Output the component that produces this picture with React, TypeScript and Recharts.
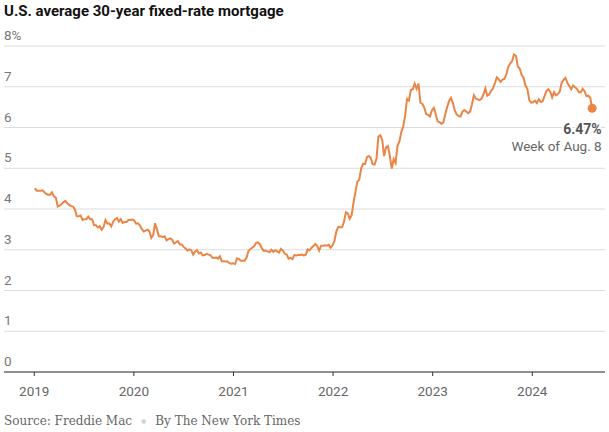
import { CartesianGrid, Line, LineChart, XAxis, YAxis } from "recharts";

// Freddie Mac weekly 30-year fixed rate, first week of each year + weekly values
const start2019 = "2019-01-03";
const rates2019 = [
  4.51, 4.45, 4.45, 4.45, 4.46, 4.41, 4.37, 4.35, 4.35, 4.41, 4.31, 4.28, 4.06,
  4.08, 4.12, 4.17, 4.2, 4.14, 4.1, 4.07, 4.06, 3.99, 3.82, 3.82, 3.84, 3.73,
  3.75, 3.75, 3.81, 3.75, 3.75, 3.6, 3.6, 3.55, 3.58, 3.49, 3.56, 3.73, 3.64,
  3.65, 3.57, 3.69, 3.75, 3.78, 3.69, 3.75, 3.66, 3.68, 3.68, 3.73, 3.73, 3.74,
];
const start2020 = "2020-01-02";
const rates2020 = [
  3.72, 3.64, 3.65, 3.6, 3.51, 3.45, 3.47, 3.49, 3.45, 3.29, 3.36, 3.65, 3.5,
  3.33, 3.33, 3.31, 3.33, 3.23, 3.26, 3.28, 3.24, 3.15, 3.18, 3.21, 3.13, 3.13,
  3.07, 3.03, 2.98, 3.01, 2.99, 2.88, 2.96, 2.99, 2.91, 2.93, 2.86, 2.87, 2.9,
  2.88, 2.87, 2.81, 2.8, 2.81, 2.78, 2.84, 2.72, 2.72, 2.71, 2.71, 2.67, 2.66,
  2.67,
];
const start2021 = "2021-01-07";
const rates2021 = [
  2.65, 2.79, 2.77, 2.73, 2.73, 2.73, 2.81, 2.97, 3.02, 3.05, 3.09, 3.17, 3.18,
  3.13, 3.04, 2.97, 2.98, 2.96, 2.94, 3.0, 2.95, 2.99, 2.96, 2.93, 3.02, 2.98,
  2.9, 2.88, 2.78, 2.8, 2.77, 2.87, 2.86, 2.87, 2.87, 2.88, 2.86, 2.88, 3.01,
  2.99, 3.05, 3.09, 3.14, 3.09, 2.98, 3.1, 3.1, 3.11, 3.1, 3.12, 3.05, 3.11,
];
const start2022 = "2022-01-06";
const rates2022 = [
  3.22, 3.45, 3.56, 3.55, 3.55, 3.69, 3.92, 3.89, 3.76, 3.85, 4.16, 4.42, 4.67,
  4.72, 5.0, 5.11, 5.1, 5.27, 5.3, 5.25, 5.1, 5.09, 5.23, 5.78, 5.81, 5.7, 5.3,
  5.51, 5.54, 5.3, 4.99, 5.22, 5.13, 5.55, 5.66, 5.89, 6.02, 6.29, 6.7, 6.66,
  6.92, 6.94, 7.08, 6.95, 7.08, 6.61, 6.58, 6.49, 6.33, 6.31, 6.27, 6.42,
];
const start2023 = "2023-01-05";
const rates2023 = [
  6.48, 6.33, 6.15, 6.13, 6.09, 6.12, 6.32, 6.5, 6.65, 6.73, 6.6, 6.42, 6.32,
  6.28, 6.27, 6.39, 6.43, 6.39, 6.35, 6.39, 6.57, 6.79, 6.71, 6.69, 6.67, 6.71,
  6.81, 6.96, 6.78, 6.81, 6.9, 6.96, 7.09, 7.23, 7.18, 7.12, 7.18, 7.19, 7.31,
  7.49, 7.57, 7.63, 7.79, 7.76, 7.5, 7.44, 7.29, 7.22, 7.03, 6.95, 6.67, 6.61,
];
const start2024 = "2024-01-04";
const rates2024 = [
  6.62, 6.66, 6.6, 6.69, 6.63, 6.64, 6.77, 6.9, 6.94, 6.88, 6.74, 6.87, 6.79,
  6.82, 6.88, 7.1, 7.17, 7.22, 7.09, 7.02, 6.94, 7.03, 6.99, 6.95, 6.87, 6.86,
  6.95, 6.89, 6.77, 6.78, 6.73, 6.47,
];

const yTicks = [0, 1, 2, 3, 4, 5, 6, 7, 8];
const yearTicks = [2019, 2020, 2021, 2022, 2023, 2024];
const lastValueLabel = "6.47%";
const lastWeekLabel = "Week of Aug. 8";

const WEEK = 7 * 86400000;
const toYear = (ms: number) => {
  const y = new Date(ms).getUTCFullYear();
  const s = Date.UTC(y, 0, 1);
  const e = Date.UTC(y + 1, 0, 1);
  return y + (ms - s) / (e - s);
};

const series: [string, number[]][] = [
  [start2019, rates2019],
  [start2020, rates2020],
  [start2021, rates2021],
  [start2022, rates2022],
  [start2023, rates2023],
  [start2024, rates2024],
];
const data = series.flatMap(([start, vals]) =>
  vals.map((v, i) => ({ t: toYear(Date.parse(start) + i * WEEK), v }))
);

const orange = "#ea8546";
const sans = "Roboto, 'Noto Sans', sans-serif";

const renderYTick = (props: any) => {
  const { y, payload, index } = props;
  return (
    <text key={index} x={4} y={y - 6} fill="#777" fontSize={13.5} fontFamily={sans}>
      {payload.value === 8 ? "8%" : String(payload.value)}
    </text>
  );
};

const EndDot = (props: any) => {
  const { cx, cy, index } = props;
  if (index !== data.length - 1) return <g key={index} />;
  return (
    <g key={index}>
      <circle cx={cx} cy={cy} r={4.5} fill={orange} />
      <text
        x={cx + 9.5}
        y={cy + 26}
        textAnchor="end"
        fontFamily={sans}
        fontSize={14}
        fontWeight={700}
        fill="#555"
        stroke="#fff"
        strokeWidth={4}
        paintOrder="stroke"
      >
        {lastValueLabel}
      </text>
      <text
        x={cx + 9.5}
        y={cy + 43}
        textAnchor="end"
        fontFamily={sans}
        fontSize={13.5}
        fill="#666"
        stroke="#fff"
        strokeWidth={4}
        paintOrder="stroke"
      >
        {lastWeekLabel}
      </text>
    </g>
  );
};

export default function App() {
  return (
    <div style={{ position: "absolute", left: 0, top: 0, width: 609, height: 432, background: "#fff" }}>
      <div
        style={{
          position: "absolute",
          left: 4,
          top: 3,
          fontFamily: sans,
          fontWeight: 700,
          fontSize: 15,
          lineHeight: "16px",
          color: "#121212",
          whiteSpace: "nowrap",
        }}
      >
        U.S. average 30-year fixed-rate mortgage
      </div>
      <LineChart
        width={609}
        height={432}
        data={data}
        margin={{ top: 46, right: 4, bottom: 30, left: 3 }}
      >
        <CartesianGrid vertical={false} stroke="#dcdcdc" />
        <YAxis
          type="number"
          domain={[0, 8]}
          ticks={yTicks}
          width={1}
          axisLine={false}
          tickLine={false}
          tick={renderYTick}
          interval={0}
        />
        <XAxis
          dataKey="t"
          type="number"
          domain={[2018.696, 2024.73]}
          ticks={yearTicks}
          height={30}
          interval={0}
          axisLine={{ stroke: "#333" }}
          tickLine={{ stroke: "#333" }}
          tickSize={4}
          tickMargin={10}
          tick={{ fill: "#666", fontSize: 13.5, fontFamily: sans }}
        />
        <Line
          type="linear"
          dataKey="v"
          stroke={orange}
          strokeWidth={2}
          dot={EndDot}
          activeDot={false}
          isAnimationActive={false}
        />
      </LineChart>
      <div
        style={{
          position: "absolute",
          left: 4,
          top: 414,
          fontFamily: "'DejaVu Serif', serif",
          fontSize: 12,
          lineHeight: "14px",
          color: "#666",
          whiteSpace: "nowrap",
        }}
      >
        Source: Freddie Mac
        <span style={{ color: "#d4d4d4", margin: "0 9px", fontSize: 6, verticalAlign: "2px" }}>●</span>
        By The New York Times
      </div>
    </div>
  );
}
